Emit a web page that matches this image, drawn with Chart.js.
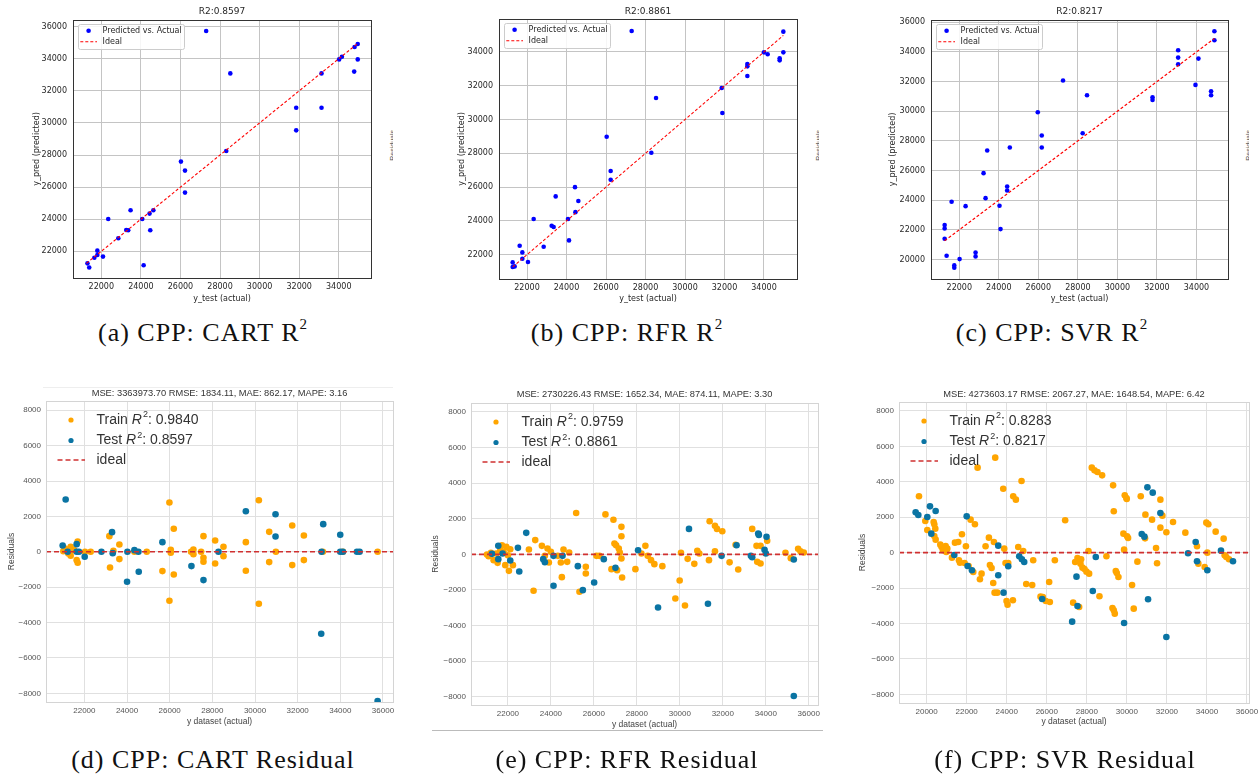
<!DOCTYPE html>
<html>
<head>
<meta charset="utf-8">
<script src="https://cdn.jsdelivr.net/npm/chart.js@4.4.1/dist/chart.umd.min.js"></script>
<style>
  html, body { margin: 0; padding: 0; background: #fff; }
  body { width: 1260px; height: 778px; position: relative; overflow: hidden; }
  canvas { position: absolute; }
  .cap { position: absolute; font-family: "Liberation Serif", serif; font-size: 26px; line-height: 26px;
         color: #111; white-space: nowrap; transform: translateX(-50%); letter-spacing: 1px; }
  .cap sup { font-size: 15px; line-height: 0; position: relative; top: -2px; }
  .stub { position: absolute; width: 4px; height: 40px; overflow: hidden; }
  .stub span { display: block; writing-mode: vertical-rl; transform: rotate(180deg);
               font: 7px "Liberation Sans", sans-serif; color: #555; }
  .rule { position: absolute; height: 1px; }
</style>
</head>
<body>
<script>
// ---- top row: predicted vs actual (test set) ----
const r2Titles = ['R2:0.8597', 'R2:0.8861', 'R2:0.8217'];

const cartActual = [21300, 21390, 21650, 21800, 21800, 22085, 22350, 22860, 23260, 23360, 23480, 24070, 24140, 24440, 24475, 24630,
  26025, 26230, 26230, 27300, 28315, 28520, 31850, 31850, 33130, 33130, 34020, 34160, 34780, 34800, 34960, 34960];
const cartPred = [21250, 20990, 21600, 22040, 21770, 21670, 24015, 22810, 23330, 23310, 24555, 24015, 21130, 24350, 23310, 24555,
  27590, 27030, 25660, 35730, 28250, 33090, 30950, 29540, 33090, 30950, 33960, 34130, 33200, 34730, 34920, 33960];

const rfrActual = [21274, 21274, 21375, 21629, 21764, 21764, 22050, 22338, 22844, 23249, 23350, 23452, 24076, 24127, 24430, 24450, 24600,
  26034, 26237, 26237, 27300, 28296, 28533, 31858, 31892, 33158, 33158, 33158, 34000, 34186, 34794, 34794, 34980, 34980];
const rfrPred = [21544, 21268, 21307, 22531, 22136, 21761, 21564, 24110, 22472, 23716, 23637, 25453, 24110, 22847, 26000, 24520, 25180,
  28986, 26953, 26440, 35244, 28038, 31276, 31868, 30388, 33289, 33151, 32579, 33980, 33862, 33625, 33506, 35204, 33980];

const svrActual = [21260, 21260, 21260, 21360, 21613, 21748, 21748, 22017, 22320, 22825, 22825, 23229, 23330, 23414, 24036, 24087, 24423, 24423,
  24558, 25972, 26174, 26174, 27250, 28244, 28463, 31778, 31778, 33074, 33074, 33074, 33950, 34101, 34740, 34740, 34908, 34908];
const svrPred = [22316, 22090, 21395, 20249, 23889, 19597, 19440, 20024, 23596, 20473, 20204, 25821, 24136, 27349, 23619, 22046, 24923, 24653,
  27551, 29933, 28360, 27551, 32068, 28517, 31079, 30944, 30765, 34113, 33618, 33169, 31776, 33551, 31349, 31079, 35393, 34787];

// end points of the y = x "Ideal" line
const idealCart = [21250, 34980];
const idealRfr = [21280, 34980];
const idealSvr = [21260, 34910];

// tick values
const topXTicks = [22000, 24000, 26000, 28000, 30000, 32000, 34000];
const cartYTicks = [22000, 24000, 26000, 28000, 30000, 32000, 34000, 36000];
const rfrYTicks = [22000, 24000, 26000, 28000, 30000, 32000, 34000];
const svrYTicks = [20000, 22000, 24000, 26000, 28000, 30000, 32000, 34000, 36000];
const resXTicks = [22000, 24000, 26000, 28000, 30000, 32000, 34000, 36000];
const svrResXTicks = [20000, 22000, 24000, 26000, 28000, 30000, 32000, 34000, 36000];
const resYTicks = [-8000, -6000, -4000, -2000, 0, 2000, 4000, 6000, 8000];

// ---- bottom row: residuals, [actual, residual] ----
const metricTitles = [
  'MSE: 3363973.70 RMSE: 1834.11, MAE: 862.17, MAPE: 3.16',
  'MSE: 2730226.43 RMSE: 1652.34, MAE: 874.11, MAPE: 3.30',
  'MSE: 4273603.17 RMSE: 2067.27, MAE: 1648.54, MAPE: 6.42'
];
const trainR2 = ['0.9840', '0.9759', '0.8283'];
const testR2 = ['0.8597', '0.8861', '0.8217'];

const cartTrain = [[21015, 38], [21093, 188], [21249, -94], [21359, 282], [21359, -226], [21515, 94], [21640, -471], [21687, 583], [21687, -621],
  [22031, 0], [22297, 0], [23173, 885], [23204, -885], [23361, 56], [23642, 414], [23642, -414], [24346, 0], [24925, 0],
  [25988, 2785], [25988, -2767], [26051, 113], [26051, -56], [26192, 1299], [26192, -1280], [25660, -1092],
  [27004, 0], [27113, 132], [27113, -132], [27473, 0], [27584, 885], [27584, -339], [27584, -565],
  [28131, 640], [28131, -659], [28522, 282], [28522, -245], [29570, 546], [29570, -1073], [30180, 2917], [30180, -2936],
  [30665, 1129], [30665, -583], [30978, 0], [31744, 1487], [31744, -753], [32291, 922], [32291, -470], [33183, 0], [34121, 0], [35748, 0]];
const cartTest = [[21124, 2955], [20983, 358], [21218, 0], [21640, 433], [21640, 0], [21750, 0], [22016, -282], [22800, 0], [23298, 1110], [23330, -75],
  [24018, 0], [24002, -1694], [24346, 94], [24534, 0], [24550, -1129], [25660, 546], [27020, -809], [27584, -1600], [28287, 0], [29570, 2296],
  [30962, 2127], [30962, 866], [33120, 0], [33198, 1562], [33104, -4630], [33996, 960], [33996, 0], [34121, 0], [34778, 0], [34903, 0], [35748, -8431]];

const rfrTrain = [[21024, -9], [21102, -103], [21210, 84], [21334, -327], [21458, 47], [21520, -477], [21644, 234], [21722, 515], [21799, 140], [21876, -608],
  [21923, 421], [22000, -47], [22046, -926], [22108, 290], [22232, -608], [22976, 271], [23270, 800], [23193, -2049], [23580, 477], [23720, -84],
  [23843, 327], [23905, -458], [23998, 140], [24323, -84], [24463, -458], [24510, -1282], [24587, 271], [24758, -421], [24850, 103], [25330, -2105],
  [25176, 2320], [25625, -702], [25625, -1076], [26121, -84], [26260, -84], [26539, 2245], [26911, 1946], [26958, 608], [27035, 515], [27159, 327],
  [27206, 103], [27283, 1544], [27283, 1020], [27283, -234], [27314, -1300], [26818, -833], [27081, -889], [27933, -833], [28398, 477], [28212, 47],
  [28507, -84], [28661, -327], [28816, -552], [29188, -664], [29792, -2479], [29993, -1469], [30055, 84], [30241, -2872], [30365, -253], [30675, -533],
  [30814, 196], [30908, 47], [31357, -327], [31388, 1862], [31636, 1600], [31729, 1431], [31636, 178], [31977, 1300], [32317, -449], [32596, 533],
  [32719, -851], [33370, 1431], [33571, 477], [33757, 477], [33602, -421], [33757, -515], [34067, 758], [34918, 84], [35166, -215], [35507, 309],
  [35616, 178], [35771, 103]];
const rfrTest = [[21256, 28], [21551, 477], [21551, -271], [21752, 47], [22108, -346], [22465, 365], [22527, -964], [22852, 1207], [23642, -271], [23720, -440],
  [24122, -84], [24122, -1768], [24541, -84], [25254, -664], [25486, -2011], [26013, -1581], [26462, -271], [27004, -758], [28057, 234], [28986, -2984],
  [30427, 1431], [31310, -2778], [31945, -84], [32642, 515], [33308, -84], [33370, -159], [33649, 1169], [33680, 1094], [33943, 253], [34005, 47],
  [34036, 982], [35306, -290], [35306, -7961]];

const svrTrain = [[19617, 3181], [19933, 1788], [20033, 1280], [20349, 1731], [20382, 1600], [20432, 1355], [20382, 941], [20449, 734], [20682, 452], [20748, 320],
  [20815, 132], [20898, 320], [20981, 38], [20948, 376], [21031, 226], [21264, -282], [21413, 565], [21580, 602], [21613, -433], [21663, -565],
  [21763, 1035], [21896, -583], [21962, 358], [22095, -753], [22195, 1863], [22411, 1600], [22328, -1092], [22661, -1506], [22544, 4799], [22743, -1186],
  [22943, 358], [23110, 847], [23160, -696], [23243, -866], [23360, 602], [23326, -1713], [23393, -2258], [23426, 5364], [23526, -2258], [23825, 3613],
  [23875, 226], [23941, -583], [23991, -2729], [24041, -2936], [24075, -583], [24308, -2691], [24324, 3181], [24457, 2992], [24574, 320], [24740, 4046],
  [24823, 94], [24973, -1769], [25272, -1826], [25322, -433], [25688, -2484], [25804, -2503], [25954, -2729], [26120, -1656], [26154, -2785], [26403, -433],
  [26918, 1826], [27317, -2823], [27417, -527], [27533, -301], [27617, -3068], [27683, -621], [27716, -376], [27783, -847], [27883, -922], [27982, -1073],
  [28115, -1186], [28082, 94], [28248, 4799], [28381, 4649], [28531, 4554], [28631, -2465], [28764, 4366], [28980, -207], [29313, 3802], [29346, 2334],
  [29280, -3124], [29346, -3256], [29396, -3444], [29446, -1035], [29496, -1148], [29579, -1374], [29828, 1073], [29861, 169], [29895, 3237], [29978, 3086],
  [30011, 922], [30061, 828], [29994, 3030], [30260, -1826], [30343, -3162], [30526, -508], [30693, 3181], [30926, 2146], [30909, 809], [31258, 1863],
  [31458, 263], [31508, -602], [31674, 2992], [31674, 1412], [31774, 2089], [31973, 1148], [32306, 1731], [32921, 1129], [33503, 358], [33570, -621],
  [33886, -809], [33969, 1694], [34069, 1600], [34019, 0], [34435, 1186], [34834, 790], [34884, -150], [34967, -245], [35100, -376]];
const svrTest = [[19451, 2277], [19584, 2127], [20033, 2014], [20166, 2616], [20233, 1073], [20449, 2353], [21380, -132], [22000, 2051], [22046, -753], [22262, -998],
  [23576, 395], [23576, -1280], [23842, -2258], [24075, -772], [24624, -207], [24757, -376], [24873, -527], [25771, -2616], [27267, -3896], [27484, -1355],
  [27533, -3011], [28298, -2164], [28448, -245], [29861, -3971], [30743, 1054], [30876, 903], [31026, 3689], [31059, -2635], [31292, 3388], [31674, 2240],
  [31973, -4761], [33054, -38], [33437, 602], [33503, -489], [34019, -998], [34701, 113], [35300, -489]];

const captions = ['(a) CPP: CART R', '(b) CPP: RFR R', '(c) CPP: SVR R',
                  '(d) CPP: CART Residual', '(e) CPP: RFR Residual', '(f) CPP: SVR Residual'];

const pts = pairs => pairs.map(p => ({ x: p[0], y: p[1] }));
const xy = (xs, ys) => xs.map((x, i) => ({ x: x, y: ys[i] }));
const fmt = v => (v < 0 ? '\u2212' + Math.abs(v) : String(v));

// titles, frame and the in-axes legend
function overlay(cfg) {
  return {
    id: 'overlay',
    afterDraw(chart) {
      const ctx = chart.ctx, A = chart.chartArea;
      ctx.save();
      ctx.strokeStyle = cfg.frame; ctx.lineWidth = 1;
      ctx.strokeRect(Math.round(A.left) + 0.5, Math.round(A.top) + 0.5, Math.round(A.right - A.left), Math.round(A.bottom - A.top));
      ctx.font = cfg.titleFont; ctx.fillStyle = cfg.titleColor;
      ctx.textAlign = 'center'; ctx.textBaseline = 'middle';
      ctx.fillText(cfg.title, (A.left + A.right) / 2, A.top - cfg.titleOffset);
      const L = cfg.legend;
      if (L.box) {
        const [bx, by, bw, bh] = L.box;
        ctx.beginPath();
        ctx.roundRect(Math.round(A.left + bx) + 0.5, Math.round(A.top + by) + 0.5, bw, bh, 2);
        ctx.fillStyle = 'rgba(255,255,255,0.85)'; ctx.fill();
        ctx.strokeStyle = '#cccccc'; ctx.stroke();
      }
      L.items.forEach((it, i) => {
        const y = A.top + L.rowY[i];
        if (it.kind === 'dot') {
          ctx.beginPath(); ctx.arc(A.left + L.markX, y, L.markR, 0, Math.PI * 2);
          ctx.fillStyle = it.color; ctx.fill();
        } else {
          ctx.beginPath(); ctx.setLineDash(L.dash);
          ctx.moveTo(A.left + L.dashX[0], y); ctx.lineTo(A.left + L.dashX[1], y);
          ctx.strokeStyle = it.color; ctx.lineWidth = L.dashW; ctx.stroke(); ctx.setLineDash([]);
        }
        let x = A.left + L.textX;
        ctx.textAlign = 'left'; ctx.textBaseline = 'middle'; ctx.fillStyle = L.color;
        it.parts.forEach(p => {
          const txt = Array.isArray(p) ? p[0] : p, style = Array.isArray(p) ? p[1] : '';
          let font = L.size + 'px ' + L.family, dy = 0;
          if (style === 'it') font = 'italic ' + font;
          if (style === 'sup') { font = Math.round(L.size * 0.62) + 'px ' + L.family; dy = -L.size * 0.38; x += 1; }
          ctx.font = font;
          ctx.fillText(txt, x, y + dy);
          x += ctx.measureText(txt).width;
        });
      });
      ctx.restore();
    }
  };
}

function panel(p) {
  const [l, t, r, b] = p.area;
  const padL = 72, padT = 26, padR = 14, padB = 34;
  const x0 = l - padL, y0 = t - padT;
  const cv = document.createElement('canvas');
  cv.width = r + padR - x0; cv.height = b + padB - y0;
  cv.style.left = x0 + 'px'; cv.style.top = y0 + 'px';
  document.body.appendChild(cv);
  const tickFont = { family: p.family, size: p.tickSize };
  const titleFont = { family: p.family, size: p.labelSize };
  const lh = p.labelSize * 1.2;
  const axis = (range, tickVals, tickPad, titleText, titlePad, fit) => ({
    type: 'linear', min: range[0], max: range[1], afterFit: fit,
    afterBuildTicks: s => { s.ticks = tickVals.map(v => ({ value: v })); },
    ticks: { autoSkip: false, maxRotation: 0, padding: tickPad, font: tickFont, color: p.tickColor, callback: fmt },
    grid: { color: p.gridColor, lineWidth: 1, drawTicks: false },
    border: { display: false },
    title: { display: true, text: titleText, font: titleFont, color: p.labelColor, padding: titlePad }
  });
  new Chart(cv.getContext('2d'), {
    type: 'scatter',
    data: { datasets: p.datasets },
    options: {
      responsive: false, animation: false, events: [],
      layout: { padding: { left: 0, top: padT, right: padR, bottom: 0 } },
      scales: {
        x: axis(p.xRange, p.xTicks, p.xTickPad, p.xTitle,
                { top: 0, bottom: (b + padB) - lh / 2 - p.xTitleY },
                s => { s.height = padB; }),
        y: axis(p.yRange, p.yTicks, p.yTickPad, p.yTitle,
                { top: p.yTitleX - x0 - lh / 2, bottom: 0 },
                s => { s.width = padL; })
      },
      plugins: { legend: { display: false }, tooltip: { enabled: false } }
    },
    plugins: [overlay(p.overlay)]
  });
}

// ---- top row ----
const topStyle = {
  family: '"DejaVu Sans", sans-serif', tickSize: 8, labelSize: 8,
  tickColor: '#262626', labelColor: '#262626', gridColor: '#c4c4c4',
  xTitle: 'y_test (actual)', yTitle: 'y_pred (predicted)', xTickPad: 4, yTickPad: 6, xTitleY: 299, xTicks: topXTicks
};
function topLegend() {
  return { box: [4.5, 4, 106, 25], rowY: [10.7, 21.7], markX: 15.6, markR: 2.3, dashX: [7.3, 24], dash: [3, 2], dashW: 1.1,
           textX: 29.6, size: 8, family: '"DejaVu Sans", sans-serif', color: '#262626',
           items: [{ kind: 'dot', color: '#0000ff', parts: ['Predicted vs. Actual'] },
                   { kind: 'dash', color: '#ff0000', parts: ['Ideal'] }] };
}
function topSets(actual, pred, ideal) {
  return [
    { data: xy(actual, pred), backgroundColor: '#0000ff', borderWidth: 0, pointRadius: 2.3, order: 2 },
    { data: xy(ideal, ideal), showLine: true, borderColor: '#ff0000', borderWidth: 1.1, borderDash: [3, 2],
      pointRadius: 0, order: 1 }
  ];
}
const topPanels = [
  { area: [73, 20, 371, 278], xRange: [20570, 35630], yRange: [20336, 36417], yTitleX: 37, yTicks: cartYTicks,
    sets: topSets(cartActual, cartPred, idealCart), title: r2Titles[0] },
  { area: [499, 19, 797, 279], xRange: [20582, 35671], yRange: [20562, 35953], yTitleX: 462, yTicks: rfrYTicks,
    sets: topSets(rfrActual, rfrPred, idealRfr), title: r2Titles[1] },
  { area: [931, 20, 1228, 279], xRange: [20570, 35596], yRange: [18680, 36155], yTitleX: 893, yTicks: svrYTicks,
    sets: topSets(svrActual, svrPred, idealSvr), title: r2Titles[2] }
];
topPanels.forEach(tp => panel(Object.assign({}, topStyle, tp, {
  datasets: tp.sets,
  overlay: { frame: '#333333', title: tp.title, titleFont: '9px "DejaVu Sans", sans-serif', titleColor: '#262626',
             titleOffset: tp.area[1] - 11.7, legend: topLegend() }
})));

// ---- bottom row ----
const botStyle = {
  family: '"Liberation Sans", Arial, sans-serif', tickSize: 8, labelSize: 8.5,
  tickColor: '#555555', labelColor: '#444444', gridColor: '#e0e0e0',
  xTitle: 'y dataset (actual)', yTitle: 'Residuals', xTickPad: 4, yTickPad: 5, yTicks: resYTicks
};
const trainColor = '#ffa500', testColor = '#0a74a3', idealColor = '#d03030';
function botLegend(i) {
  return { box: null, rowY: [19, 39.5, 59], markX: 25, markR: 2.6, dashX: [11.5, 39], dash: [5, 3], dashW: 1.6,
           textX: 50.5, size: 14, family: '"Liberation Sans", Arial, sans-serif', color: '#333333',
           items: [{ kind: 'dot', color: trainColor, parts: ['Train ', ['R', 'it'], ['2', 'sup'], ': ' + trainR2[i]] },
                   { kind: 'dot', color: testColor, parts: ['Test ', ['R', 'it'], ['2', 'sup'], ': ' + testR2[i]] },
                   { kind: 'dash', color: idealColor, parts: ['ideal'] }] };
}
function botSets(train, test, xRange) {
  return [
    { data: pts(train), backgroundColor: trainColor, borderWidth: 0, pointRadius: 3.3, order: 3 },
    { data: pts(test), backgroundColor: testColor, borderWidth: 0, pointRadius: 3.3, order: 2 },
    { data: xRange.map(x => ({ x: x, y: 0 })), showLine: true, borderColor: idealColor, borderWidth: 1.6,
      borderDash: [5, 3], pointRadius: 0, order: 1 }
  ];
}
const botPanels = [
  { area: [46, 401, 393, 702], xRange: [20202, 36469], yRange: [-8491, 8525], yTitleX: 12, xTitleY: 722, titleY: 393,
    xTicks: resXTicks, train: cartTrain, test: cartTest },
  { area: [471, 403, 818, 705], xRange: [20281, 36432], yRange: [-8466, 8505], yTitleX: 436, xTitleY: 724.5, titleY: 394.5,
    xTicks: resXTicks, train: rfrTrain, test: rfrTest },
  { area: [899, 402, 1249, 703], xRange: [18619, 36100], yRange: [-8491, 8508], yTitleX: 863, xTitleY: 722, titleY: 394,
    xTicks: svrResXTicks, train: svrTrain, test: svrTest }
];
botPanels.forEach((bp, i) => panel(Object.assign({}, botStyle, bp, {
  datasets: botSets(bp.train, bp.test, bp.xRange),
  overlay: { frame: '#d4d4d4', title: metricTitles[i], titleFont: '9.3px "Liberation Sans", Arial, sans-serif', titleColor: '#333333',
             titleOffset: bp.area[1] - bp.titleY, legend: botLegend(i) }
})));

// ---- captions and leftovers of the source page ----
const capPos = [[203, 320, true], [627, 320, true], [1052, 320, true], [213, 747, false], [627, 747, false], [1065, 747, false]];
captions.forEach((c, i) => {
  const d = document.createElement('div');
  d.className = 'cap';
  d.style.left = capPos[i][0] + 'px'; d.style.top = capPos[i][1] + 'px';
  d.textContent = c;
  if (capPos[i][2]) { const s = document.createElement('sup'); s.textContent = '2'; d.appendChild(s); }
  document.body.appendChild(d);
});
[389, 815, 1245].forEach(x => {
  const d = document.createElement('div');
  d.className = 'stub';
  d.style.left = x + 'px'; d.style.top = '130px';
  d.innerHTML = '<span>Residuals</span>';
  document.body.appendChild(d);
});
[[43, 387, 350, '#eeeeee'], [432, 730, 391, '#bbbbbb']].forEach(([x, y, w, c]) => {
  const d = document.createElement('div');
  d.className = 'rule';
  d.style.left = x + 'px'; d.style.top = y + 'px'; d.style.width = w + 'px'; d.style.background = c;
  document.body.appendChild(d);
});
</script>
</body>
</html>
